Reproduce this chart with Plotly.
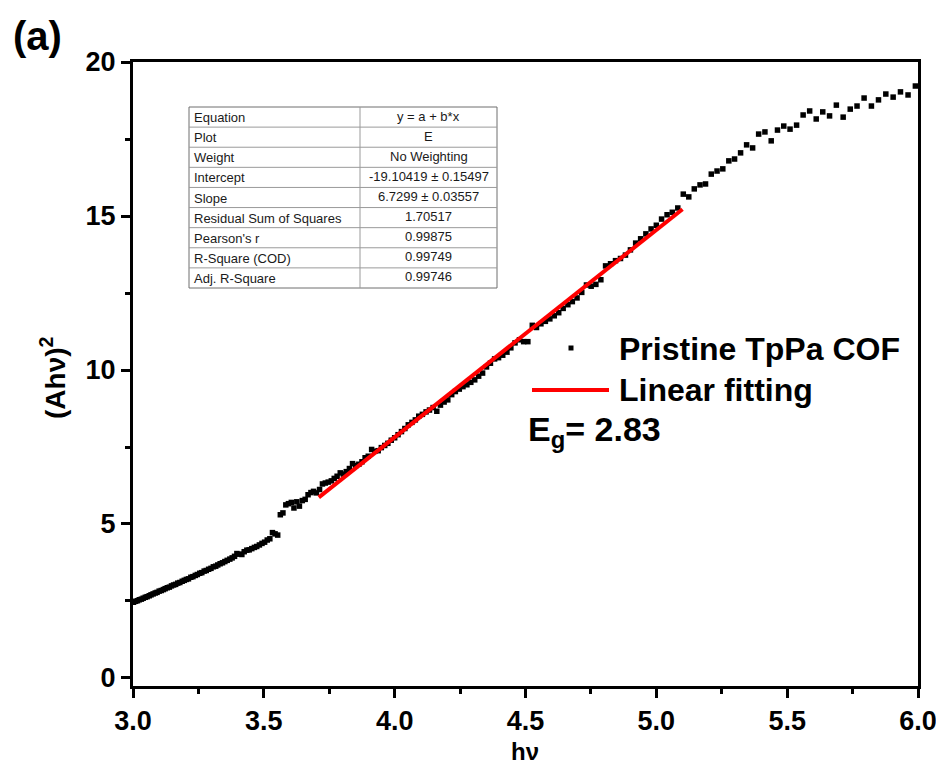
import plotly.graph_objects as go

# ---------------- data ----------------
hv = [3.002, 3.010, 3.017, 3.024, 3.032, 3.039, 3.047, 3.054, 3.062, 3.069,
      3.077, 3.085, 3.092, 3.100, 3.108, 3.116, 3.123, 3.131, 3.139, 3.147,
      3.155, 3.163, 3.171, 3.179, 3.188, 3.196, 3.204, 3.212, 3.221, 3.229,
      3.238, 3.246, 3.255, 3.263, 3.272, 3.280, 3.289, 3.298, 3.307, 3.316,
      3.324, 3.333, 3.342, 3.351, 3.360, 3.370, 3.379, 3.388, 3.397, 3.407,
      3.416, 3.425, 3.435, 3.444, 3.454, 3.464, 3.473, 3.483, 3.493, 3.503,
      3.513, 3.523, 3.533, 3.543, 3.553, 3.563, 3.573, 3.584, 3.594, 3.605,
      3.615, 3.626, 3.636, 3.647, 3.658, 3.669, 3.680, 3.690, 3.701, 3.713,
      3.724, 3.735, 3.746, 3.758, 3.769, 3.780, 3.792, 3.804, 3.815, 3.827,
      3.839, 3.851, 3.863, 3.875, 3.887, 3.899, 3.912, 3.924, 3.937, 3.949,
      3.962, 3.974, 3.987, 4.000, 4.013, 4.026, 4.039, 4.052, 4.066, 4.079,
      4.092, 4.106, 4.120, 4.133, 4.147, 4.161, 4.175, 4.189, 4.203, 4.218,
      4.232, 4.247, 4.261, 4.276, 4.291, 4.306, 4.321, 4.336, 4.351, 4.366,
      4.382, 4.397, 4.413, 4.429, 4.444, 4.460, 4.477, 4.493, 4.509, 4.526,
      4.542, 4.559, 4.576, 4.593, 4.610, 4.627, 4.644, 4.662, 4.679, 4.697,
      4.715, 4.733, 4.751, 4.769, 4.788, 4.806, 4.825, 4.844, 4.863, 4.882,
      4.901, 4.921, 4.940, 4.960, 4.980, 5.000, 5.020, 5.041, 5.061, 5.082,
      5.103, 5.124, 5.145, 5.167, 5.188, 5.210, 5.232, 5.254, 5.277, 5.299,
      5.322, 5.345, 5.368, 5.391, 5.415, 5.439, 5.463, 5.487, 5.511, 5.536,
      5.561, 5.586, 5.611, 5.636, 5.662, 5.688, 5.714, 5.741, 5.767, 5.794,
      5.822, 5.849, 5.877, 5.905, 5.933, 5.962, 5.990]

ahv2 = [2.46, 2.49, 2.51, 2.54, 2.56, 2.59, 2.62, 2.64, 2.67, 2.70,
        2.73, 2.76, 2.78, 2.82, 2.84, 2.87, 2.90, 2.93, 2.95, 2.99,
        3.02, 3.04, 3.08, 3.10, 3.14, 3.17, 3.20, 3.22, 3.27, 3.29,
        3.33, 3.36, 3.40, 3.42, 3.47, 3.49, 3.53, 3.56, 3.61, 3.63,
        3.67, 3.71, 3.74, 3.78, 3.82, 3.86, 3.90, 3.95, 4.04, 4.02,
        4.01, 4.10, 4.15, 4.16, 4.20, 4.24, 4.27, 4.32, 4.37, 4.41,
        4.48, 4.52, 4.72, 4.68, 4.64, 5.30, 5.36, 5.62, 5.66, 5.70,
        5.52, 5.72, 5.58, 5.76, 5.80, 5.95, 6.02, 6.06, 6.01, 6.12,
        6.30, 6.33, 6.36, 6.40, 6.48, 6.55, 6.66, 6.62, 6.70, 6.80,
        6.96, 6.90, 6.94, 7.02, 7.15, 7.20, 7.42, 7.36, 7.38, 7.48,
        7.55, 7.62, 7.72, 7.80, 7.90, 8.00, 8.10, 8.22, 8.30, 8.38,
        8.50, 8.56, 8.64, 8.70, 8.78, 8.66, 8.86, 8.96, 9.03, 9.20,
        9.30, 9.38, 9.46, 9.52, 9.60, 9.68, 9.80, 9.90, 10.10, 10.22,
        10.36, 10.40, 10.48, 10.58, 10.72, 10.88, 10.98, 10.92, 10.92, 11.45,
        11.38, 11.50, 11.58, 11.66, 11.76, 11.86, 12.00, 12.12, 12.22, 12.34,
        12.52, 12.76, 12.72, 12.78, 12.93, 13.38, 13.45, 13.55, 13.62, 13.73,
        13.90, 14.12, 14.26, 14.42, 14.58, 14.70, 14.90, 15.04, 15.12, 15.26,
        15.71, 15.62, 15.88, 16.01, 16.04, 16.36, 16.46, 16.53, 16.79, 16.85,
        17.05, 17.31, 17.21, 17.66, 17.73, 17.44, 17.79, 17.92, 17.82, 17.95,
        18.28, 18.41, 18.15, 18.38, 18.25, 18.60, 18.21, 18.47, 18.57, 18.83,
        18.57, 18.77, 18.96, 18.86, 19.03, 18.93, 19.22]

fit_intercept = -19.10419
fit_slope = 6.7299
fit_x = [3.71, 5.10]
fit_y = [fit_intercept + fit_slope * v for v in fit_x]

table_labels = ["Equation", "Plot", "Weight", "Intercept", "Slope",
                "Residual Sum of Squares", "Pearson's r", "R-Square (COD)",
                "Adj. R-Square"]
table_values = ["y = a + b*x", "E", "No Weighting", "-19.10419 \u00b1 0.15497",
                "6.7299 \u00b1 0.03557", "1.70517", "0.99875", "0.99749",
                "0.99746"]

x_ticks = [3.0, 3.5, 4.0, 4.5, 5.0, 5.5, 6.0]
y_ticks = [0, 5, 10, 15, 20]

# ---------------- figure ----------------
W, H = 944, 764
OX, OY = 8, 8            # page (body) offset of the figure
L, R, T, B = 125, 34, 54, 86
PW, PH = W - L - R, H - T - B
X0 = OX + L              # screen x of plot left edge
Y1 = OY + T + PH         # screen y of plot bottom edge


def px(xp):
    return (xp - X0) / PW


def py(yp):
    return (Y1 - yp) / PH


FONT = "Liberation Sans, Arial, sans-serif"

fig = go.Figure()
fig.add_trace(go.Scatter(x=hv, y=ahv2, mode="markers",
                         marker=dict(symbol="square", size=5.5, color="black",
                                     line=dict(width=0)),
                         name="Pristine TpPa COF", showlegend=False))
fig.add_trace(go.Scatter(x=fit_x, y=fit_y, mode="lines",
                         line=dict(color="#ff0000", width=4),
                         name="Linear fitting", showlegend=False))

axis_common = dict(showline=True, linecolor="black", linewidth=3, mirror=True,
                   ticks="outside", tickcolor="black", tickwidth=3, ticklen=9,
                   showgrid=False, zeroline=False,
                   tickfont=dict(family=FONT, size=27, color="black", weight="bold"))

fig.update_layout(
    width=W, height=H,
    margin=dict(l=L, r=R, t=T, b=B, pad=0),
    paper_bgcolor="white", plot_bgcolor="white",
    xaxis=dict(range=[3.0, 6.0], tickvals=x_ticks,
               ticktext=[f"{v:.1f}" for v in x_ticks],
               minor=dict(dtick=0.25, tick0=3.0, ticks="outside", ticklen=5,
                          tickwidth=2.5, tickcolor="black", showgrid=False),
               **axis_common),
    yaxis=dict(range=[-0.26, 20], tickvals=y_ticks,
               ticktext=[str(v) for v in y_ticks],
               minor=dict(dtick=2.5, tick0=0, ticks="outside", ticklen=5,
                          tickwidth=2.5, tickcolor="black", showgrid=False),
               **axis_common),
    showlegend=False,
)

annotations = []
shapes = []


def note(text, x, y, size, xanchor="center", yanchor="middle", angle=0,
         color="black"):
    annotations.append(dict(text=text, x=px(x), y=py(y), xref="paper",
                            yref="paper", showarrow=False, xanchor=xanchor,
                            yanchor=yanchor, textangle=angle,
                            font=dict(family=FONT, size=size, color=color)))


# panel label
note("<b>(a)</b>", 37, 36, 40)
# axis titles
note("<b>(Ah\u03bd)<sup>2</sup></b>", 53, 378, 28, angle=-90)
note("<b>h\u03bd</b>", 525, 751, 24)

# legend (manual)
shapes.append(dict(type="rect", xref="paper", yref="paper",
                   x0=px(568.5), x1=px(573.5), y0=py(350.5), y1=py(345.5),
                   fillcolor="black", line=dict(width=0)))
note("<b>Pristine TpPa COF</b>", 617, 349, 32, xanchor="left")
shapes.append(dict(type="line", xref="paper", yref="paper",
                   x0=px(532), x1=px(609), y0=py(390), y1=py(390),
                   line=dict(color="#ff0000", width=4)))
note("<b>Linear fitting</b>", 617, 390, 32, xanchor="left")
note("<b>E<sub>g</sub>= 2.83</b>", 526, 431, 34, xanchor="left")

# fit table
tx0, tx1, txm = 189, 497, 360
ty0, ty1 = 107, 288
n = len(table_labels)
rh = (ty1 - ty0) / n
shapes.append(dict(type="rect", xref="paper", yref="paper",
                   x0=px(tx0), x1=px(tx1), y0=py(ty1), y1=py(ty0),
                   fillcolor="white", line=dict(color="#6f6f6f", width=1)))
shapes.append(dict(type="line", xref="paper", yref="paper",
                   x0=px(txm), x1=px(txm), y0=py(ty1), y1=py(ty0),
                   line=dict(color="#9a9a9a", width=1)))
for i in range(1, n):
    yy = ty0 + i * rh
    shapes.append(dict(type="line", xref="paper", yref="paper",
                       x0=px(tx0), x1=px(tx1), y0=py(yy), y1=py(yy),
                       line=dict(color="#9a9a9a", width=1)))
for i, (lab, val) in enumerate(zip(table_labels, table_values)):
    yc = ty0 + (i + 0.5) * rh
    note(lab, tx0 + 3, yc + 0.5, 13, xanchor="left", color="#1a1a1a")
    note(val, (txm + tx1) / 2, yc - 1, 13, color="#1a1a1a")

fig.update_layout(annotations=annotations, shapes=shapes)
fig.write_html("out.html")
